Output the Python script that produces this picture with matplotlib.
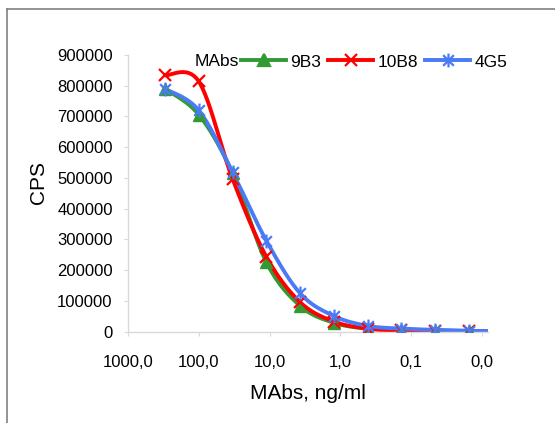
import numpy as np
import matplotlib
matplotlib.use("Agg")
import matplotlib.pyplot as plt
from matplotlib.path import Path
from matplotlib.lines import Line2D
from matplotlib.ticker import FixedLocator, FixedFormatter, NullLocator

plt.rcParams['font.family'] = ['Liberation Sans', 'DejaVu Sans']

# ---- data ----
conc = [300, 100, 33.33, 11.11, 3.704, 1.235, 0.4115, 0.1372, 0.0457, 0.01524, 0.00508]
series_names = ["9B3", "10B8", "4G5"]
v_9B3 = [790000, 706000, 516000, 226000, 84000, 29000, 10000, 5000, 3000, 2000, 500]
v_10B8 = [834000, 814000, 497000, 244000, 96000, 33000, 10000, 4000, 3000, 1000, 500]
v_4G5 = [790000, 720000, 519000, 296000, 125000, 51000, 19000, 10000, 6000, 3000, 500]
n_marked = 10  # last point lies beyond axis limit (line only)

x_ticks = [1000, 100, 10, 1, 0.1, 0.01]
x_tick_labels = ["1000,0", "100,0", "10,0", "1,0", "0,1", "0,0"]
y_ticks = [0, 100000, 200000, 300000, 400000, 500000, 600000, 700000, 800000, 900000]

colors = ["#339a33", "#ff0000", "#4a7af5"]

W, H = 555, 423
fig = plt.figure(figsize=(W / 100, H / 100), dpi=100)
ax = fig.add_axes([128 / W, 1 - 331.7 / H, (488 - 128) / W, (331.7 - 55) / H])
ax.set_xscale('log')
ax.set_xlim(1000, 0.0082)
ax.set_ylim(0, 900000)

# asterisk marker (x plus vertical bar)
ast = Path([(-1, -1), (1, 1), (-1, 1), (1, -1), (0, -1.3), (0, 1.3)],
           [Path.MOVETO, Path.LINETO, Path.MOVETO, Path.LINETO, Path.MOVETO, Path.LINETO])
markers = ['^', 'x', ast]
msizes = [8, 8, 10]


def smooth(xs, ys, n=30):
    pts = ax.transData.transform(np.column_stack([xs, ys]))
    P = np.vstack([pts[0], pts, pts[-1]])
    out = []
    for i in range(1, len(P) - 2):
        p0, p1, p2, p3 = P[i - 1], P[i], P[i + 1], P[i + 2]
        c1 = p1 + (p2 - p0) / 6.0
        c2 = p2 - (p3 - p1) / 6.0
        t = np.linspace(0, 1, n)[:, None]
        seg = ((1 - t) ** 3) * p1 + 3 * ((1 - t) ** 2) * t * c1 + 3 * (1 - t) * t ** 2 * c2 + t ** 3 * p2
        out.append(seg if i == 1 else seg[1:])
    out = np.vstack(out)
    d = ax.transData.inverted().transform(out)
    return d[:, 0], d[:, 1]


handles = []
for name, vals, col, mk, ms in zip(series_names, [v_9B3, v_10B8, v_4G5], colors, markers, msizes):
    sx, sy = smooth(conc, vals)
    ax.plot(sx, sy, color=col, lw=2.8, solid_capstyle='butt', zorder=2)
    if mk == '^':
        ax.plot(conc[:n_marked], vals[:n_marked], ls='none', marker=mk, ms=ms, color=col,
                mec=col, zorder=3)
    else:
        ax.plot(conc[:n_marked], vals[:n_marked], ls='none', marker=mk, ms=ms, mec=col,
                mfc='none', mew=1.6, zorder=3)
    handles.append(Line2D([], [], color=col, lw=2.8, marker=mk, ms=ms, mec=col,
                          mfc=col if mk == '^' else 'none', mew=1.6))

for s in ['top', 'right']:
    ax.spines[s].set_visible(False)
for s in ['left', 'bottom']:
    ax.spines[s].set_color('#d9d9d9')
    ax.spines[s].set_linewidth(1.0)

ax.xaxis.set_major_locator(FixedLocator(x_ticks))
ax.xaxis.set_major_formatter(FixedFormatter(x_tick_labels))
ax.xaxis.set_minor_locator(NullLocator())
ax.set_yticks(y_ticks)
ax.set_yticklabels([str(v) for v in y_ticks])
ax.tick_params(axis='x', length=3, color='#d9d9d9', labelsize=12, pad=14)
ax.tick_params(axis='y', length=3, color='#d9d9d9', labelsize=12, pad=8)

ax.set_xlabel("MAbs, ng/ml", fontsize=15)
ax.set_ylabel("CPS", fontsize=15)
ax.yaxis.set_label_coords(48 / W, 1 - 182 / H, transform=fig.transFigure)
ax.xaxis.set_label_coords(308 / W, 1 - 384 / H, transform=fig.transFigure)

fig.text(195 / W, 1 - 61 / H, "MAbs", fontsize=12.5, ha='left', va='center')
fig.legend(handles, series_names, loc='center left', bbox_to_anchor=(241 / W, 1 - 62 / H),
           ncol=3, frameon=False, fontsize=12.5, borderpad=0, handlelength=2.6,
           handletextpad=0.25, columnspacing=0.4, borderaxespad=0)

# outer border (top and left visible)
fig.add_artist(Line2D([6.5 / W, 6.5 / W], [0, 1 - 9.5 / H], transform=fig.transFigure,
                      color='#808080', lw=1.2))
fig.add_artist(Line2D([6.5 / W, 1], [1 - 9.5 / H, 1 - 9.5 / H], transform=fig.transFigure,
                      color='#808080', lw=1.2))

fig.savefig("out.png", dpi=100)
